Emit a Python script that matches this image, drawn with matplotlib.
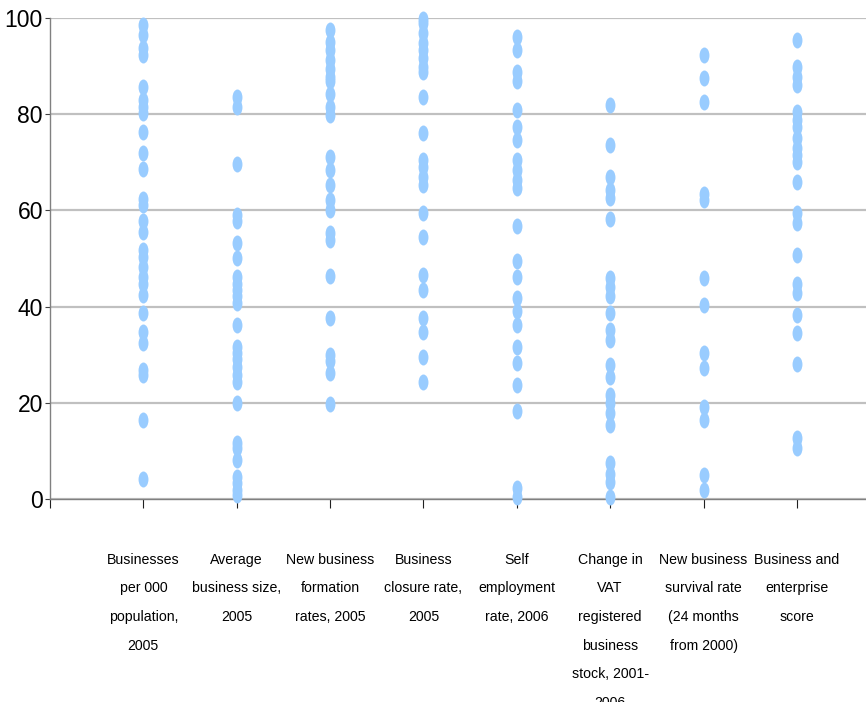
import matplotlib
matplotlib.use("Agg")
import matplotlib.pyplot as plt
from matplotlib import font_manager
from matplotlib.markers import MarkerStyle
from matplotlib.transforms import Affine2D

# noms des indicateurs (axe des x)
categories = [
    "Businesses\nper 000\npopulation,\n2005",
    "Average\nbusiness size,\n2005",
    "New business\nformation\nrates, 2005",
    "Business\nclosure rate,\n2005",
    "Self\nemployment\nrate, 2006",
    "Change in\nVAT\nregistered\nbusiness\nstock, 2001-\n2006",
    "New business\nsurvival rate\n(24 months\nfrom 2000)",
    "Business and\nenterprise\nscore",
]

# valeurs, une liste par indicateur
businesses_per_pop = [98.5, 96.5, 93.7, 92.3, 85.6, 83.0, 81.6, 80.2, 76.4, 71.9, 68.7, 62.3, 61.2,
                      57.7, 55.6, 51.8, 50.4, 48.3, 46.2, 44.8, 42.4, 38.6, 34.8, 32.4, 26.8, 25.8,
                      16.4, 4.2]
avg_business_size = [83.6, 81.4, 69.6, 59.0, 57.7, 53.2, 50.0, 46.2, 44.8, 43.5, 42.1, 40.7, 36.2,
                     31.7, 30.3, 29.2, 27.5, 25.8, 24.4, 19.9, 11.6, 10.5, 8.1, 4.6, 3.3, 1.9, 0.8]
formation_rates = [97.6, 95.1, 93.3, 91.3, 89.5, 87.8, 86.8, 84.3, 81.6, 79.8, 71.2, 68.4, 65.3,
                   62.2, 60.1, 55.2, 53.8, 46.4, 37.6, 30.0, 28.6, 26.1, 19.8]
closure_rate = [99.8, 98.9, 96.8, 94.7, 93.3, 91.6, 89.9, 88.8, 83.6, 76.0, 70.5, 69.1, 67.0,
                65.3, 59.4, 54.5, 46.6, 43.5, 37.6, 34.8, 29.6, 24.4]
self_employment = [96.1, 93.3, 88.8, 86.8, 80.9, 77.4, 74.6, 70.5, 68.4, 66.3, 64.6, 56.7, 49.4,
                   46.2, 41.7, 39.0, 36.2, 31.7, 28.2, 23.7, 18.2, 2.2, 0.5]
vat_stock_change = [81.9, 73.6, 67.0, 64.2, 62.5, 58.3, 45.9, 44.1, 42.1, 38.6, 35.1, 33.1, 27.9,
                    25.4, 21.6, 19.9, 17.8, 15.4, 7.4, 5.3, 3.6, 0.5]
survival_rate = [92.3, 87.5, 82.6, 63.5, 62.2, 45.9, 40.3, 30.3, 27.2, 19.2, 16.4, 5.0, 1.9]
enterprise_score = [95.4, 89.9, 87.8, 86.1, 80.5, 78.8, 77.4, 75.0, 72.9, 71.5, 70.1, 66.0, 59.4,
                    57.3, 50.7, 44.8, 42.8, 38.3, 34.5, 28.0, 12.6, 10.5]

series = [businesses_per_pop, avg_business_size, formation_rates, closure_rate,
          self_employment, vat_stock_change, survival_rate, enterprise_score]

# police etroite si disponible
noms = {f.name for f in font_manager.fontManager.ttflist}
if "Liberation Sans Narrow" in noms:
    police, taille_y, taille_x = "Liberation Sans Narrow", 18, 12
else:
    police, taille_y, taille_x = "Liberation Sans", 16.5, 10.2
plt.rcParams["font.family"] = [police, "DejaVu Sans"]

fig = plt.figure(figsize=(8.66, 7.02), dpi=100)
ax = fig.add_axes([50 / 866, 203 / 702, 816 / 866, 481 / 702])

# points en ellipse (plus hauts que larges)
ellipse = MarkerStyle("o", transform=Affine2D().scale(0.62, 1.0))
for i, vals in enumerate(series, start=1):
    ax.plot([i] * len(vals), vals, linestyle="none", marker=ellipse, markersize=11.5,
            color="#99CCFF", markeredgewidth=0, zorder=3, clip_on=False)

ax.set_xlim(0, 8.74)
ax.set_ylim(0, 100)
ax.set_yticks(range(0, 101, 20))
ax.set_xticks(range(0, 9), [""] + categories)

ax.yaxis.grid(True, color="#C0C0C0", linewidth=1.6)
ax.set_axisbelow(True)
for s in ["top", "right"]:
    ax.spines[s].set_visible(False)
for s in ["left", "bottom"]:
    ax.spines[s].set_color("#808080")
    ax.spines[s].set_linewidth(1.0)

ax.tick_params(axis="y", direction="out", length=3.6, width=0.8, color="#404040",
               pad=1.5, labelsize=taille_y)
ax.tick_params(axis="x", direction="out", length=6.2, width=0.8, color="#202020",
               pad=32.5, labelsize=taille_x)
for lab in ax.get_xticklabels():
    lab.set_linespacing(2.33)

fig.savefig("out.png", dpi=100)
